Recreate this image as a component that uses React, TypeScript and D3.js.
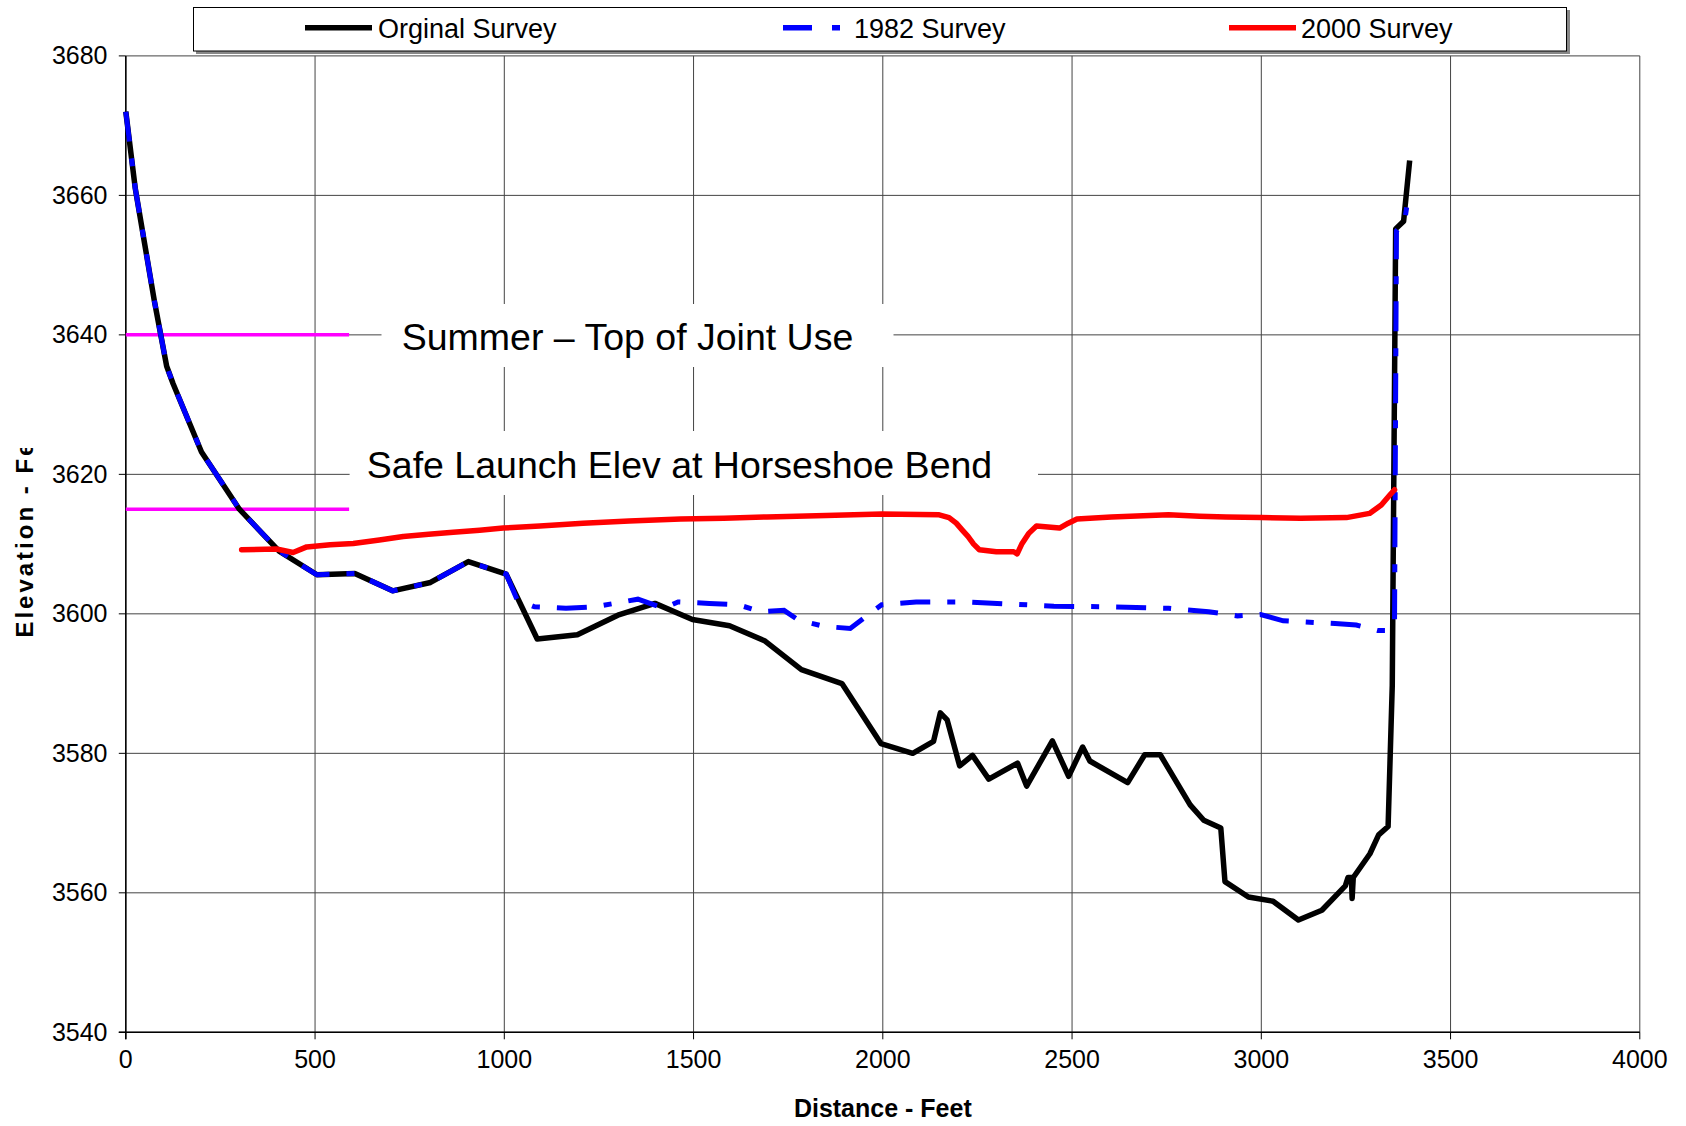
import React from 'react';
import * as d3 from 'd3';

// ==== data

const xTicks = [0, 500, 1000, 1500, 2000, 2500, 3000, 3500, 4000];
const yTicks = [3540, 3560, 3580, 3600, 3620, 3640, 3660, 3680];

const originalX = [0, 25, 50, 75, 108, 125, 200, 300, 405, 505, 605, 705, 805, 905, 1005, 1087, 1193, 1300, 1398, 1497, 1595, 1689, 1785, 1892, 1995, 2079, 2134, 2152, 2170, 2203, 2237, 2280, 2356, 2380, 2448, 2491, 2528, 2547, 2647, 2692, 2733, 2812, 2848, 2893, 2904, 2966, 3031, 3098, 3160, 3222, 3229, 3238, 3240, 3243, 3287, 3310, 3335, 3346, 3355, 3376, 3392];
const originalY = [3672, 3661, 3653, 3645, 3635.5, 3633, 3623.2, 3615, 3609, 3605.6, 3605.8, 3603.3, 3604.5, 3607.5, 3605.7, 3596.4, 3597, 3599.8, 3601.5, 3599.2, 3598.3, 3596.1, 3592, 3590, 3581.4, 3580, 3581.7, 3585.8, 3584.8, 3578.2, 3579.7, 3576.3, 3578.6, 3575.3, 3581.8, 3576.7, 3580.9, 3578.9, 3575.8, 3579.8, 3579.8, 3572.6, 3570.4, 3569.3, 3561.6, 3559.4, 3558.8, 3556.1, 3557.5, 3561, 3562.2, 3562.2, 3559.2, 3562.2, 3565.6, 3568.3, 3569.5, 3589.7, 3655.2, 3656.3, 3665];

const survey82X = [0, 25, 50, 75, 108, 125, 200, 300, 405, 505, 605, 705, 805, 905, 1005, 1034, 1080, 1163, 1239, 1353, 1421, 1459, 1542, 1618, 1679, 1739, 1777, 1845, 1914, 1967, 1997, 2088, 2225, 2452, 2604, 2755, 2861, 2937, 2998, 3058, 3195, 3251, 3308, 3335, 3352, 3357, 3379, 3388];
const survey82Y = [3672, 3661, 3653, 3645, 3635.5, 3633, 3623.2, 3615, 3609, 3605.6, 3605.8, 3603.3, 3604.5, 3607.5, 3605.7, 3602, 3601, 3600.8, 3601, 3602.1, 3600.8, 3601.7, 3601.5, 3601.3, 3600.3, 3600.5, 3599.1, 3598.2, 3597.9, 3600.1, 3601.3, 3601.7, 3601.7, 3601.1, 3601, 3600.8, 3600.3, 3599.7, 3599.9, 3599, 3598.6, 3598.4, 3597.6, 3597.6, 3598.6, 3654.9, 3656.4, 3659.8];

const survey00X = [306, 398, 442, 478, 540, 601, 670, 733, 800, 865, 935, 997, 1094, 1208, 1330, 1466, 1580, 1694, 1850, 1997, 2149, 2175, 2194, 2210, 2225, 2240, 2255, 2300, 2346, 2355, 2368, 2385, 2406, 2467, 2490, 2513, 2604, 2755, 2837, 2907, 3000, 3104, 3225, 3286, 3317, 3339, 3352];
const survey00Y = [3609.2, 3609.3, 3608.8, 3609.6, 3609.9, 3610.1, 3610.6, 3611.1, 3611.4, 3611.7, 3612, 3612.3, 3612.6, 3613, 3613.3, 3613.6, 3613.7, 3613.9, 3614.1, 3614.3, 3614.2, 3613.8, 3613, 3612, 3611.1, 3610, 3609.2, 3608.9, 3608.9, 3608.6, 3610.1, 3611.5, 3612.6, 3612.3, 3613, 3613.6, 3613.9, 3614.2, 3614, 3613.9, 3613.8, 3613.7, 3613.8, 3614.4, 3615.6, 3617, 3617.8];

const levelX = [0, 590];
const jointUseY = [3640, 3640];
const safeLaunchY = [3615, 3615];

// ====

const FONT = '"Liberation Sans", Arial, sans-serif';

const App = () => {
    const x = d3.scaleLinear().domain([0, 4000]).range([125.8, 1639.8]);
    const y = d3.scaleLinear().domain([3540, 3680]).range([1032.3, 55.9]);

    const line = d3.line<number[]>()
        .x((d) => x(d[0]))
        .y((d) => y(d[1]));

    const zip = (xs: number[], ys: number[]) => xs.map((v, i) => [v, ys[i]]);

    const left = x(0), right = x(4000), top = y(3680), bottom = y(3540);

    return (
        <svg
            width={1686}
            height={1126}
            style={{ position: 'absolute', left: 0, top: 0, background: '#fff' }}
            fontFamily={FONT}>
            <defs>
                <clipPath id="ylabel-clip">
                    <rect x={0} y={448} width={60} height={300} />
                </clipPath>
            </defs>

            {/* gridlines */}
            {yTicks.map((t) => (
                <line key={'gy' + t} x1={left} x2={right} y1={y(t)} y2={y(t)} stroke="#444" strokeWidth={1} />
            ))}
            {xTicks.map((t) => (
                <line key={'gx' + t} x1={x(t)} x2={x(t)} y1={top} y2={bottom} stroke="#444" strokeWidth={1} />
            ))}

            {/* axes */}
            <line x1={left} x2={left} y1={top} y2={bottom + 7} stroke="#000" strokeWidth={1.5} />
            <line x1={left - 7} x2={right} y1={bottom} y2={bottom} stroke="#000" strokeWidth={1.5} />
            {yTicks.map((t) => (
                <g key={'ty' + t}>
                    <line x1={left - 7} x2={left} y1={y(t)} y2={y(t)} stroke="#000" strokeWidth={1} />
                    <text x={107.5} y={y(t) + 8.5} textAnchor="end" fontSize={25} fill="#000">{t}</text>
                </g>
            ))}
            {xTicks.map((t) => (
                <g key={'tx' + t}>
                    <line x1={x(t)} x2={x(t)} y1={bottom} y2={bottom + 7} stroke="#000" strokeWidth={1} />
                    <text x={x(t)} y={1068} textAnchor="middle" fontSize={25} fill="#000">{t}</text>
                </g>
            ))}

            {/* axis titles */}
            <text x={x(2000)} y={1117} textAnchor="middle" fontSize={25} fontWeight="bold" fill="#000">Distance - Feet</text>
            <g clipPath="url(#ylabel-clip)">
                <text
                    transform="translate(32.5,637.6) rotate(-90)"
                    fontSize={24}
                    fontWeight="bold"
                    letterSpacing={3}
                    fill="#000">Elevation - Feet</text>
            </g>

            {/* annotation boxes */}
            <rect x={381.5} y={304} width={512} height={63} fill="#fff" />
            <rect x={349.6} y={431} width={688.4} height={64} fill="#fff" />
            <text x={627.5} y={350} textAnchor="middle" fontSize={37.5} fill="#000">Summer – Top of Joint Use</text>
            <text x={679.5} y={478} textAnchor="middle" fontSize={37.5} fill="#000">Safe Launch Elev at Horseshoe Bend</text>

            {/* series */}
            <path d={line(zip(levelX, jointUseY)) || ''} fill="none" stroke="#ff00ff" strokeWidth={3.5} />
            <path d={line(zip(levelX, safeLaunchY)) || ''} fill="none" stroke="#ff00ff" strokeWidth={3.5} />
            <path d={line(zip(originalX, originalY)) || ''} fill="none" stroke="#000" strokeWidth={5.5} strokeLinejoin="round" />
            <path d={line(zip(survey82X, survey82Y)) || ''} fill="none" stroke="#0000ff" strokeWidth={5} strokeDasharray="30,17,8,17" />
            <path d={line(zip(survey00X, survey00Y)) || ''} fill="none" stroke="#ff0000" strokeWidth={5.5} strokeLinejoin="round" strokeLinecap="round" />

            {/* legend */}
            <rect x={196} y={10} width={1374} height={44} fill="#888" />
            <rect x={193.5} y={7.5} width={1373} height={43.5} fill="#fff" stroke="#000" strokeWidth={1} />
            <line x1={305} x2={372} y1={27.7} y2={27.7} stroke="#000" strokeWidth={5.5} />
            <text x={378} y={37.5} fontSize={27} fill="#000">Orginal Survey</text>
            <line x1={783} x2={841} y1={27.7} y2={27.7} stroke="#0000ff" strokeWidth={5.5} strokeDasharray="29,20,8,20" />
            <text x={854} y={37.5} fontSize={27} fill="#000">1982 Survey</text>
            <line x1={1229} x2={1296} y1={27.7} y2={27.7} stroke="#ff0000" strokeWidth={5.5} />
            <text x={1301} y={37.5} fontSize={27} fill="#000">2000 Survey</text>
        </svg>
    );
};

// ====

export default App;
